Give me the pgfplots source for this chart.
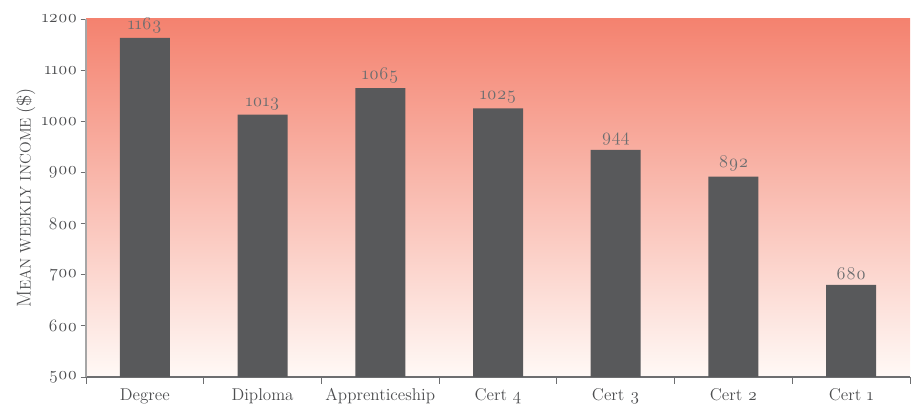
\documentclass[border=0pt]{standalone}
\usepackage{fontspec}
\setmainfont{Latin Modern Roman}[Numbers=OldStyle]
\usepackage{pgfplots}
\pgfplotsset{compat=1.18}
\definecolor{barc}{HTML}{58595B}
\definecolor{txt}{HTML}{4D4E50}
\definecolor{lbl}{HTML}{6D6E70}
\definecolor{topc}{HTML}{F4826F}
\definecolor{botc}{HTML}{FFF9F6}
\begin{document}
\begin{tikzpicture}
\begin{axis}[
  name=ax,
  scale only axis,
  width=618pt, height=268.5pt,
  xmin=-0.5, xmax=6.5,
  ymin=500, ymax=1200,
  ytick={500,600,...,1200},
  yticklabels={500,600,700,800,900,1000,1100,1200},
  xtick={0,...,6},
  xticklabels={Degree,Diploma,Apprenticeship,Cert 4,Cert 3,Cert 2,Cert 1},
  minor xtick={-0.5,0.5,...,6.5},
  major x tick style={draw=none},
  minor tick length=5pt,
  major tick length=4pt,
  tick align=outside,
  tick style={lbl, line width=0.6pt},
  axis x line*=bottom,
  axis y line*=left,
  axis line style={lbl, line width=0.8pt},
  separate axis lines,
  y axis line style={draw=black!35},
  axis background/.style={shade, top color=topc, bottom color=botc},
  yticklabel style={font=\fontsize{13}{15}\selectfont, text=txt, xshift=1pt},
  xticklabel style={font=\fontsize{12.8}{14}\selectfont, text=txt, yshift=-1pt},
  ylabel={{\fontsize{15}{17}\selectfont M}{\fontsize{11.5}{13}\selectfont EAN WEEKLY INCOME} {\fontsize{14}{16}\selectfont(\$)}},
  ylabel style={text=txt, yshift=-2pt},
  clip=false,
]
\addplot[ybar, bar width=37.5pt, fill=barc, draw=none,
  nodes near coords,
  nodes near coords style={font=\fontsize{13.5}{15}\selectfont, text=lbl},
  point meta=explicit symbolic]
  table[meta=l] {
x y l
0 1163 1163
1 1013 1013
2 1065 1065
3 1025 1025
4 944 944
5 892 892
6 680 680
};
\end{axis}
\pgfresetboundingbox
\path ([shift={(-64.5pt,-23.25pt)}]ax.south west) rectangle ([shift={(6pt,14.25pt)}]ax.north east);
\end{tikzpicture}
\end{document}
